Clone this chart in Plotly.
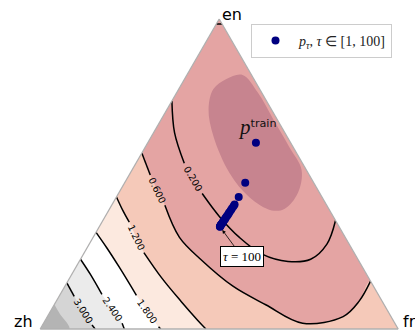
import numpy as np
import plotly.graph_objects as go

# contour paths in ternary coordinates (share of en, share of fr; zh = 1 - en - fr)
c020_en = [0.7358, 0.6337, 0.5349, 0.4371, 0.3607, 0.2955, 0.2414, 0.2179, 0.2250, 0.2740, 0.3500]
c020_fr = [0.0, 0.0584, 0.1350, 0.2339, 0.3218, 0.4087, 0.4991, 0.5833, 0.6430, 0.6639, 0.6500]
c060_en = [0.5675, 0.4967, 0.3989, 0.2955, 0.2250, 0.1380, 0.0783, 0.0189, 0.0401, 0.0890, 0.1543]
c060_fr = [0.0, 0.0591, 0.1488, 0.2412, 0.3354, 0.4694, 0.5908, 0.7236, 0.8262, 0.8460, 0.8457]
c120_en = [0.4260, 0.3826, 0.3444, 0.2466, 0.1650, 0.0890, 0.0294, 0.0]
c120_fr = [0.0, 0.0394, 0.0766, 0.1663, 0.2568, 0.3491, 0.4243, 0.4629]
c180_en = [0.3118, 0.2629, 0.1977, 0.1086, 0.0075, 0.0]
c180_fr = [0.0, 0.0539, 0.1229, 0.2144, 0.3267, 0.3367]
c240_en = [0.2250, 0.1761, 0.1119, 0.0183, 0.0]
c240_fr = [0.0, 0.0522, 0.1164, 0.2197, 0.2349]
c300_en = [0.1487, 0.1053, 0.0130, 0.0]
c300_fr = [0.0, 0.0423, 0.1382, 0.1534]
# darkest band at the zh corner (no line drawn)
c360_en = [0.0793, 0.0499, 0.0]
c360_fr = [0.0, 0.0293, 0.0815]
# short piece of contour at the en vertex
top_en = [0.984, 0.984]
top_fr = [0.0, 0.016]

# shaded region around p_train
ell_en = [0.8196, 0.7632, 0.6761, 0.5890, 0.5130, 0.4380, 0.3881, 0.3826, 0.4260, 0.5023, 0.6217, 0.7087, 0.7740, 0.8066]
ell_fr = [0.1554, 0.2263, 0.3133, 0.4004, 0.4737, 0.5004, 0.4892, 0.4556, 0.3706, 0.2781, 0.1730, 0.1159, 0.0968, 0.1169]

# points
train_en, train_fr = [0.6011], [0.3020]
path_en = [0.4716, 0.4260, 0.402, 0.396, 0.389, 0.383, 0.377, 0.372, 0.367, 0.362, 0.357,
           0.353, 0.349, 0.346, 0.343, 0.340, 0.338, 0.336, 0.334, 0.332, 0.331, 0.330]
path_fr = [0.3369, 0.3415, 0.342, 0.342, 0.341, 0.341, 0.340, 0.340, 0.340, 0.339, 0.339,
           0.339, 0.338, 0.338, 0.338, 0.338, 0.337, 0.337, 0.337, 0.337, 0.337, 0.337]

# (en, fr, label, index where the line resumes after the label)
contours = [
    (c020_en, c020_fr, "0.200", 3),
    (c060_en, c060_fr, "0.600", 2),
    (c120_en, c120_fr, "1.200", 3),
    (c180_en, c180_fr, "1.800", 4),
    (c240_en, c240_fr, "2.400", 3),
    (c300_en, c300_fr, "3.000", 2),
]

PINK = "#E4A4A3"
bands = [
    (c060_en + [0.0, 0.0], c060_fr + [1.0, 0.0], "#F5C9B9"),
    (c120_en + [0.0], c120_fr + [0.0], "#FCE9DF"),
    (c180_en + [0.0], c180_fr + [0.0], "#FFFFFF"),
    (c240_en + [0.0], c240_fr + [0.0], "#EBEBEB"),
    (c300_en + [0.0], c300_fr + [0.0], "#D5D5D5"),
    (c360_en + [0.0], c360_fr + [0.0], "#B4B4B4"),
]

W, H = 415, 330
TRI_H = 310.0
TRI_W = TRI_H * 2 / np.sqrt(3)
CX, TOP = 219.2, 19.0


def to_px(en, fr):
    return CX - TRI_W / 2 + TRI_W * (fr + en / 2), TOP + TRI_H * (1 - en)


def tern(en, fr, **kw):
    en = np.asarray(en, float)
    fr = np.asarray(fr, float)
    kw.setdefault("showlegend", False)
    return go.Scatterternary(a=en, b=1 - en - fr, c=fr, hoverinfo="skip", **kw)


fig = go.Figure()

for en, fr, col in bands:
    fig.add_trace(tern(en, fr, mode="lines", fill="toself", fillcolor=col,
                       line=dict(width=0, color=col, shape="spline")))

fig.add_trace(tern(ell_en + ell_en[:1], ell_fr + ell_fr[:1], mode="lines", fill="toself",
                   fillcolor="#C7848F", line=dict(width=0, color="#C7848F", shape="spline")))

annotations = []
for en, fr, lab, g in contours:
    for sl in (slice(0, g), slice(g, None)):
        fig.add_trace(tern(en[sl], fr[sl], mode="lines",
                           line=dict(color="black", width=1.5, shape="spline")))
    x0, y0 = to_px(en[g - 1], fr[g - 1])
    x1, y1 = to_px(en[g], fr[g])
    ang = np.degrees(np.arctan2(y1 - y0, x1 - x0))
    annotations.append(dict(x=(x0 + x1) / 2 / W, y=1 - (y0 + y1) / 2 / H, xref="paper", yref="paper",
                            text=lab, showarrow=False, textangle=ang,
                            xanchor="center", yanchor="middle",
                            font=dict(family="DejaVu Sans", size=9.5, color="black")))

fig.add_trace(tern(top_en, top_fr, mode="lines", line=dict(color="black", width=1.5)))

fig.add_trace(tern(train_en, train_fr, mode="markers", marker=dict(color="#000080", size=8)))
fig.add_trace(tern(path_en, path_fr, mode="markers", marker=dict(color="#000080", size=8),
                   showlegend=True, name="<i>p</i><sub><i>τ</i></sub>, <i>τ</i> ∈ [1, 100]"))

tx, ty = to_px(train_en[0], train_fr[0])
annotations.append(dict(x=tx / W, y=1 - ty / H, xref="paper", yref="paper", showarrow=False,
                        xshift=2, yshift=16,
                        text="<span style=\"font-family:Liberation Serif;font-size:21px\"><i>p</i></span><sup>train</sup>",
                        font=dict(family="DejaVu Sans", size=16, color="#111")))

lx, ly = to_px(path_en[-1], path_fr[-1])
annotations.append(dict(x=lx / W, y=1 - ly / H, xref="paper", yref="paper", showarrow=True,
                        ax=22, ay=30, arrowhead=2, arrowsize=0.9, arrowwidth=0.8, arrowcolor="black",
                        standoff=4, text="<i>τ</i> = 100", bgcolor="white", bordercolor="black",
                        borderwidth=1, borderpad=2,
                        font=dict(family="Liberation Serif", size=13, color="black")))

corner_font = dict(family="DejaVu Sans", size=16, color="black")
annotations += [
    dict(x=220 / W, y=1 - 14 / H, xref="paper", yref="paper", text="en", showarrow=False,
         xanchor="left", yanchor="middle", font=corner_font),
    dict(x=35 / W, y=1 - 321 / H, xref="paper", yref="paper", text="zh", showarrow=False,
         xanchor="right", yanchor="middle", font=corner_font),
    dict(x=401 / W, y=1 - 321 / H, xref="paper", yref="paper", text="fr", showarrow=False,
         xanchor="left", yanchor="middle", font=corner_font),
]

axis = dict(showline=True, linecolor="#B0B0B0", linewidth=1.3, showgrid=False,
            showticklabels=False, ticks="", title=dict(text=""), layer="above traces")

fig.update_layout(
    width=W, height=H, margin=dict(l=0, r=0, t=0, b=0),
    paper_bgcolor="white",
    ternary=dict(sum=1, bgcolor=PINK,
                 domain=dict(x=[(CX - 185) / W, (CX + 185) / W],
                             y=[(H - TOP - TRI_H) / H, (H - TOP) / H]),
                 aaxis=axis, baxis=axis, caxis=axis),
    legend=dict(x=251 / W, y=1 - 24 / H, xanchor="left", yanchor="top", itemwidth=37,
                bordercolor="#CCCCCC", borderwidth=1, bgcolor="white",
                font=dict(family="Liberation Serif", size=14, color="#222")),
    annotations=annotations,
)

# the page body has a default margin; drop it so the figure sits at the window corner
fig.write_html("out.html", config={"displayModeBar": False},
               post_script="document.body.style.margin = '0';")
